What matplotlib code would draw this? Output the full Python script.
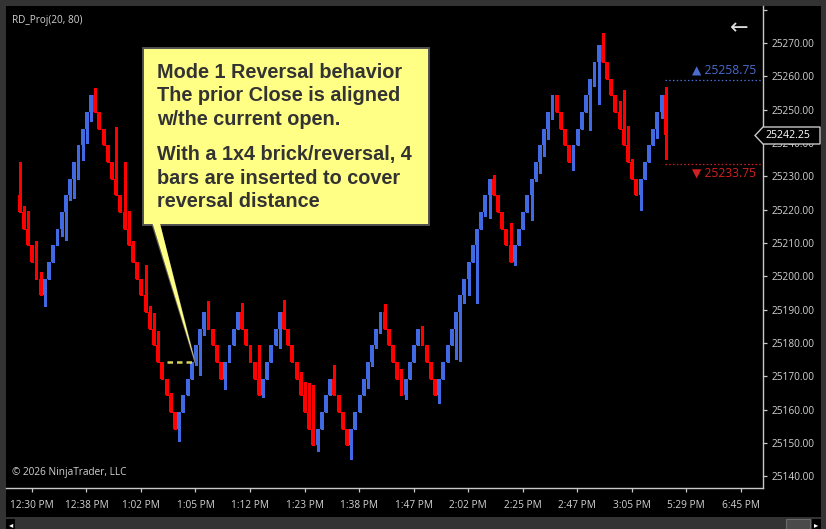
import numpy as np
import matplotlib.pyplot as plt
from matplotlib.patches import Rectangle, Polygon
from matplotlib.lines import Line2D

W, H = 826, 529

# brick closes, one per bar (5 point bricks, open = prior close)
closes = [
    25219.25, 25214.25, 25209.25, 25204.25, 25199.25, 25194.25, 25199.25, 25204.25, 25209.25, 25214.25,
    25219.25, 25224.25, 25229.25, 25234.25, 25239.25, 25244.25, 25249.25, 25254.25, 25249.25, 25244.25,
    25239.25, 25234.25, 25229.25, 25224.25, 25219.25, 25214.25, 25209.25, 25204.25, 25199.25, 25194.25,
    25189.25, 25184.25, 25179.25, 25174.25, 25169.25, 25164.25, 25159.25, 25154.25, 25159.25, 25164.25,
    25169.25, 25174.25, 25179.25, 25184.25, 25189.25, 25184.25, 25179.25, 25174.25, 25169.25, 25174.25,
    25179.25, 25184.25, 25189.25, 25184.25, 25179.25, 25174.25, 25169.25, 25164.25, 25169.25, 25174.25,
    25179.25, 25184.25, 25189.25, 25184.25, 25179.25, 25174.25, 25169.25, 25164.25, 25159.25, 25154.25,
    25149.25, 25154.25, 25159.25, 25164.25, 25169.25, 25164.25, 25159.25, 25154.25, 25149.25, 25154.25,
    25159.25, 25164.25, 25169.25, 25174.25, 25179.25, 25184.25, 25189.25, 25184.25, 25179.25, 25174.25,
    25169.25, 25164.25, 25169.25, 25174.25, 25179.25, 25184.25, 25179.25, 25174.25, 25169.25, 25164.25,
    25169.25, 25174.25, 25179.25, 25184.25, 25189.25, 25194.25, 25199.25, 25204.25, 25209.25, 25214.25,
    25219.25, 25224.25, 25229.25, 25224.25, 25219.25, 25214.25, 25209.25, 25204.25, 25209.25, 25214.25,
    25219.25, 25224.25, 25229.25, 25234.25, 25239.25, 25244.25, 25249.25, 25254.25, 25249.25, 25244.25,
    25239.25, 25234.25, 25239.25, 25244.25, 25249.25, 25254.25, 25259.25, 25264.25, 25269.25, 25264.25,
    25259.25, 25254.25, 25249.25, 25244.25, 25239.25, 25234.25, 25229.25, 25224.25, 25229.25, 25234.25,
    25239.25, 25244.25, 25249.25, 25254.25, 25242.25,
]
first_open = 25224.25

# wicks beyond the body, bar index -> price
wick_high = {
    0: 25234.25, 1: 25221.0, 2: 25219.5, 4: 25210.5, 5: 25201.25, 18: 25256.5,
    23: 25244.75, 25: 25234.25, 26: 25219.5, 27: 25210.5, 30: 25203.5, 31: 25191.0,
    32: 25189.0, 33: 25183.5, 36: 25165.0, 45: 25192.5, 53: 25192.0, 57: 25179.5,
    63: 25193.0, 67: 25171.25, 68: 25168.25, 69: 25168.0, 70: 25167.25, 75: 25173.5,
    87: 25191.75, 91: 25172.25, 96: 25185.0, 113: 25230.5, 117: 25216.0, 139: 25273.0,
    143: 25252.5, 144: 25256.0, 145: 25245.0, 146: 25235.25, 154: 25256.75,
}
wick_low = {
    6: 25191.0, 10: 25212.0, 11: 25211.0, 12: 25223.0, 13: 25223.5, 14: 25229.25,
    15: 25235.0, 16: 25240.0, 17: 25246.5, 38: 25150.5, 42: 25173.5, 43: 25170.5,
    44: 25182.25, 49: 25166.25, 58: 25163.75, 62: 25178.5, 71: 25147.5, 79: 25145.25,
    83: 25166.5, 84: 25173.0, 85: 25178.5, 86: 25183.0, 92: 25163.25, 100: 25162.0,
    104: 25175.25, 105: 25174.5, 106: 25192.0, 107: 25194.25, 109: 25192.0, 111: 25218.0,
    112: 25217.5, 118: 25203.5, 122: 25216.75, 123: 25228.5, 124: 25231.0, 125: 25236.0,
    126: 25241.25, 127: 25247.25, 132: 25231.75, 136: 25243.75, 137: 25257.0, 138: 25251.75,
    148: 25219.75, 152: 25241.5, 153: 25247.5, 154: 25235.25,
}

tick_bars = [3, 16, 29, 42, 55, 68, 81, 94, 107, 120, 133, 146, 159, 172]
tick_labels = ["12:30 PM", "12:38 PM", "1:02 PM", "1:05 PM", "1:12 PM", "1:23 PM", "1:38 PM",
               "1:47 PM", "2:02 PM", "2:25 PM", "2:47 PM", "3:05 PM", "5:29 PM", "6:45 PM"]
price_ticks = np.arange(25140, 25271, 10)

proj_up = 25258.75
proj_down = 25233.75
aligned_level = 25174.25
aligned_from, aligned_to = 35.2, 41.9

note_top = ["Mode 1 Reversal behavior", "The prior Close is aligned", "w/the current open."]
note_bottom = ["With a 1x4 brick/reversal, 4", "bars are inserted to cover", "reversal distance"]

UP = "#4169e1"
DOWN = "#ff0000"
AXIS = "#c8c8c8"
LABEL = "#d2d2d2"
FONT = ["Open Sans", "DejaVu Sans"]


def fx(px):
    return px / W


def fy(py):
    return 1 - py / H


fig = plt.figure(figsize=(W / 100, H / 100), dpi=100, facecolor="#333333")
fig.patches.append(Rectangle((fx(6), fy(517)), fx(821) - fx(6), fy(6) - fy(517),
                             transform=fig.transFigure, facecolor="black", lw=0, zorder=-10))

ax = fig.add_axes([fx(6), fy(488), fx(763) - fx(6), fy(6) - fy(488)])
ax.set_facecolor("black")

n = len(closes)
x = np.arange(n)
closes_a = np.array(closes)
opens = np.array([first_open] + closes[:-1])
highs = np.maximum(opens, closes_a)
lows = np.minimum(opens, closes_a)
for i, v in wick_high.items():
    highs[i] = max(highs[i], v)
for i, v in wick_low.items():
    lows[i] = min(lows[i], v)
colors = [UP if c > o else DOWN for o, c in zip(opens, closes_a)]

ax.vlines(x + 0.1, lows, highs, colors=colors, lw=0.9, zorder=2, antialiased=False)
ax.bar(x, np.abs(closes_a - opens), bottom=np.minimum(opens, closes_a), width=0.72,
       color=colors, linewidth=0, zorder=3, antialiased=False)

ax.set_xlim(-3.17, 177.28)
ax.set_ylim(25136.5, 25281.1)

for s in ["top", "left"]:
    ax.spines[s].set_visible(False)
for s in ["bottom", "right"]:
    ax.spines[s].set_color(AXIS)
    ax.spines[s].set_linewidth(1)

ax.yaxis.tick_right()
ax.set_yticks(price_ticks)
ax.set_yticklabels([f"{p:.2f}" for p in price_ticks])
ax.set_yticks([25280], minor=True)
ax.set_xticks(tick_bars)
ax.set_xticklabels(tick_labels)
ax.tick_params(axis="y", which="both", length=3, width=0.9, color=AXIS, pad=3,
               labelsize=7.3, labelcolor=LABEL)
ax.tick_params(axis="x", length=3, width=0.9, color=AXIS, pad=6,
               labelsize=7.3, labelcolor=LABEL)
for lab in ax.get_xticklabels() + ax.get_yticklabels():
    lab.set_family(FONT)

# aligned close / open marker
ax.hlines(aligned_level, aligned_from, aligned_to, colors="#d4d45a",
          linestyles=(0, (2.2, 1.6)), lw=1.8, zorder=5)

# projection levels
ax.hlines([proj_up], n - 1, ax.get_xlim()[1], colors="#4a6cd0", linestyles=(0, (1.2, 1.8)), lw=0.9)
ax.hlines([proj_down], n - 1, ax.get_xlim()[1], colors="#cc2020", linestyles=(0, (1.2, 1.8)), lw=0.9)
ytr = ax.get_yaxis_transform()
ax.text(0.9908, proj_up + 3.1, "▲ 25258.75", transform=ytr, ha="right", va="center",
        color="#4a6cd0", fontsize=8.7, family=FONT)
ax.text(0.9908, proj_down - 2.8, "▼ 25233.75", transform=ytr, ha="right", va="center",
        color="#d42020", fontsize=8.7, family=FONT)

# current price marker on the axis
to_fig = fig.transFigure.inverted()
yc = to_fig.transform(ax.transData.transform((0, closes[-1])))[1]
hh = 8.5 / H
fig.patches.append(Polygon([(fx(755), yc), (fx(763), yc + hh), (fx(820), yc + hh),
                            (fx(820), yc - hh), (fx(763), yc - hh)], closed=True,
                           transform=fig.transFigure, facecolor="black", edgecolor=AXIS,
                           lw=1, zorder=7))
fig.text(fx(788), yc, f"{closes[-1]:.2f}", ha="center", va="center", color="white",
         fontsize=7.6, family=FONT, zorder=8)

# callout
fig.patches.append(Rectangle((fx(143), fy(225)), fx(429) - fx(143), fy(48) - fy(225),
                             transform=fig.transFigure, facecolor="#ffff86",
                             edgecolor="#505050", lw=1.4, zorder=5))
tip = to_fig.transform(ax.transData.transform((aligned_to, aligned_level)))
fig.patches.append(Polygon([(fx(152.5), fy(223.5)), (fx(160), fy(223.5)), tuple(tip)],
                           closed=True, transform=fig.transFigure, facecolor="#ffff86",
                           lw=0, zorder=6))
for bx in (152.5, 160):
    fig.lines.append(Line2D([fx(bx), tip[0]], [fy(225.5), tip[1]], transform=fig.transFigure,
                            color="#707070", lw=0.9, alpha=0.8, zorder=6))
for k, line in enumerate(note_top):
    fig.text(fx(157), fy(78 + 23.5 * k), line, fontsize=14.3, fontweight="bold",
             family="Liberation Sans", color="#333333", va="baseline", zorder=8)
for k, line in enumerate(note_bottom):
    fig.text(fx(157), fy(160 + 23.5 * k), line, fontsize=14.3, fontweight="bold",
             family="Liberation Sans", color="#333333", va="baseline", zorder=8)

# chrome
fig.text(fx(12), fy(20), "RD_Proj(20, 80)", va="center", fontsize=7.2, color=LABEL, family=FONT)
fig.text(fx(12), fy(473), "© 2026 NinjaTrader, LLC", va="center", fontsize=7.2,
         color=LABEL, family=FONT)
fig.text(fx(739), fy(28), "←", ha="center", va="center", fontsize=16, color="#dcdcdc",
         family="DejaVu Sans")
fig.patches.append(Rectangle((fx(786), fy(529)), fx(810) - fx(786), fy(519) - fy(529),
                             transform=fig.transFigure, facecolor="#4a4a4a",
                             edgecolor="#6a6a6a", lw=0.8, zorder=2))
fig.patches.append(Rectangle((fx(812), fy(529)), fx(821) - fx(812), fy(519) - fy(529),
                             transform=fig.transFigure, facecolor="black", lw=0, zorder=2))
fig.text(fx(816), fy(525), "▸", ha="center", va="center", fontsize=6, color="white",
         family="DejaVu Sans", zorder=3)
fig.patches.append(Rectangle((fx(6), fy(529)), fx(15) - fx(6), fy(519) - fy(529),
                             transform=fig.transFigure, facecolor="black", lw=0, zorder=2))
fig.text(fx(11), fy(525), "◂", ha="center", va="center", fontsize=6, color="white",
         family="DejaVu Sans", zorder=3)

fig.savefig("out.png", dpi=100, facecolor=fig.get_facecolor())
